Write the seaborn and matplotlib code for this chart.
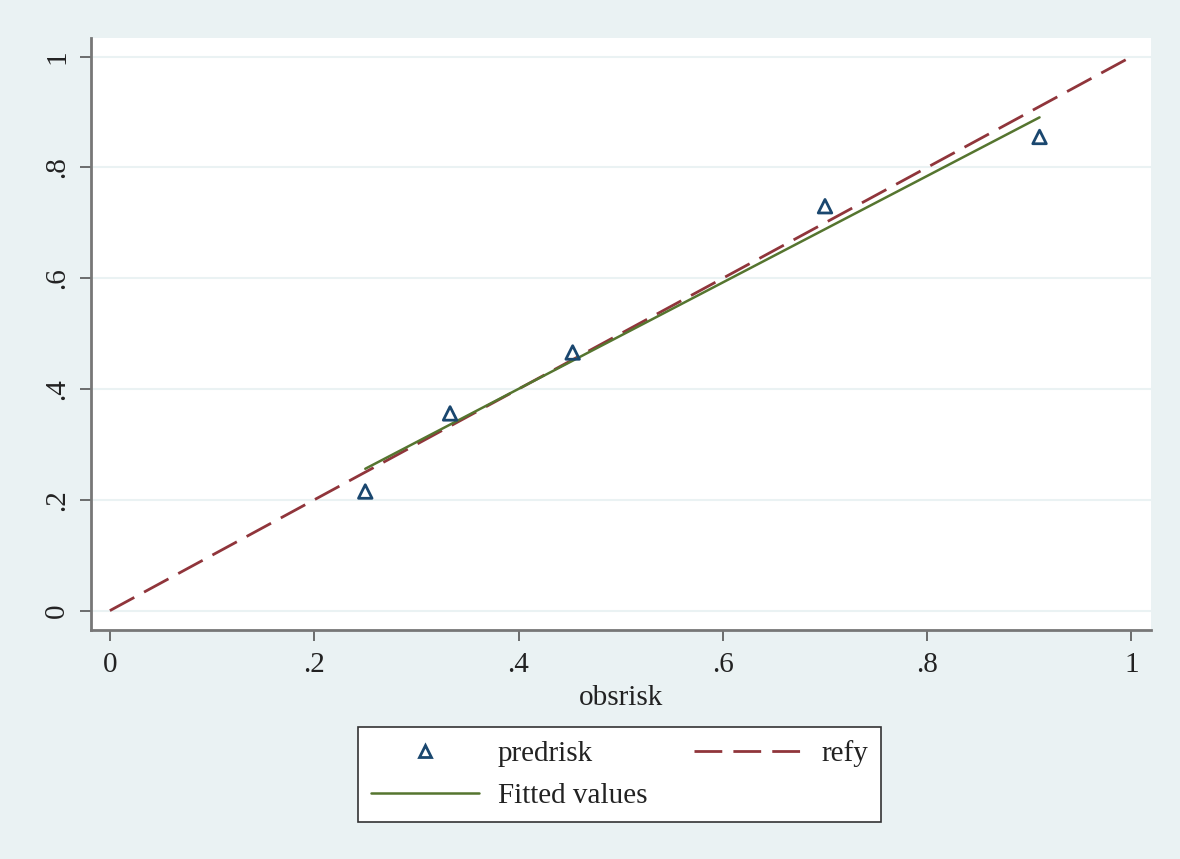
import numpy as np
import pandas as pd
import seaborn as sns
import matplotlib.pyplot as plt
from matplotlib.lines import Line2D

obsrisk = [0.250, 0.333, 0.453, 0.700, 0.910]
predrisk = [0.215, 0.356, 0.466, 0.730, 0.855]
ref_x = [0.0, 1.0]
refy = [0.0, 1.0]
tick_vals = [0, 0.2, 0.4, 0.6, 0.8, 1.0]
tick_labels = ["0", ".2", ".4", ".6", ".8", "1"]

df = pd.DataFrame({"obsrisk": obsrisk, "predrisk": predrisk})
ref = pd.DataFrame({"obsrisk": ref_x, "refy": refy})

navy = "#1a476f"
maroon = "#90353b"
green = "#55752f"
bg = "#eaf2f3"

sns.set_style("white")
plt.rcParams["font.family"] = ["Liberation Serif", "DejaVu Serif"]

fig = plt.figure(figsize=(11.8, 8.59), dpi=100, facecolor=bg)
ax = fig.add_axes([0.077, 0.267, 0.898, 0.689])
ax.set_facecolor("white")

for v in tick_vals:
    ax.axhline(v, color=bg, lw=1.5, zorder=0)

sns.lineplot(data=ref, x="obsrisk", y="refy", ax=ax, color=maroon, lw=2,
             linestyle=(0, (10, 4)), zorder=2)
sns.regplot(data=df, x="obsrisk", y="predrisk", ax=ax, scatter=False, ci=None,
            line_kws={"color": green, "lw": 1.8, "zorder": 3})
sns.scatterplot(data=df, x="obsrisk", y="predrisk", ax=ax, marker="^", s=95,
                facecolor="none", edgecolor=navy, linewidth=2, zorder=4)

ax.set_xlim(-0.0186, 1.0186)
ax.set_ylim(-0.0343, 1.034)
ax.set_xticks(tick_vals)
ax.set_xticklabels(tick_labels)
ax.set_yticks(tick_vals)
ax.set_yticklabels(tick_labels, rotation=90, va="center")
ax.tick_params(axis="both", length=8, width=1.2, color="#555555", labelsize=21,
               direction="out", pad=8, labelcolor="#222222")
ax.tick_params(axis="y", pad=7)
ax.tick_params(axis="both", bottom=True, left=True)
ax.set_xlabel("obsrisk", fontsize=21, labelpad=5, color="#222222")
ax.set_ylabel("")

for s in ["top", "right"]:
    ax.spines[s].set_visible(False)
for s in ["left", "bottom"]:
    ax.spines[s].set_color("#777777")
    ax.spines[s].set_linewidth(2)

handles = [
    Line2D([], [], marker="^", ls="none", markersize=9, markerfacecolor="none",
           markeredgecolor=navy, markeredgewidth=2),
    Line2D([], [], color=green, lw=1.8),
    Line2D([], [], color=maroon, lw=2, linestyle=(0, (10, 4))),
]
labels = ["predrisk", "Fitted values", "refy"]
leg = fig.legend(handles, labels, ncol=2, loc="center",
                 bbox_to_anchor=(0.525, 0.0984), frameon=True, fancybox=False,
                 fontsize=21, handlelength=3.7, columnspacing=1.6,
                 borderpad=0.45, labelspacing=0.52, handletextpad=0.65,
                 borderaxespad=0)
frame = leg.get_frame()
frame.set_edgecolor("#333333")
frame.set_facecolor("white")
frame.set_alpha(1)
frame.set_linewidth(1.2)
for t in leg.get_texts():
    t.set_color("#222222")

plt.savefig("out.png", dpi=100, facecolor=bg)
